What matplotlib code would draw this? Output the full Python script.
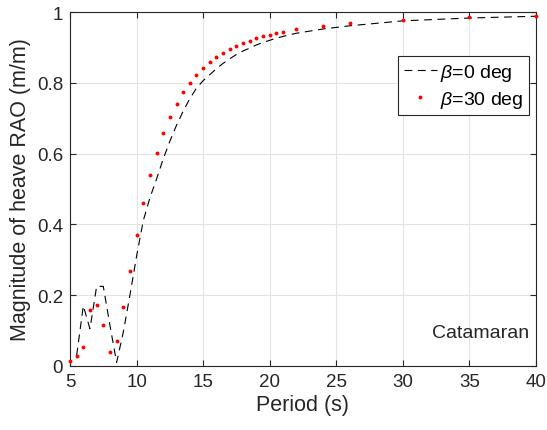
import matplotlib.pyplot as plt

plt.rcParams['font.family'] = ['Liberation Sans', 'DejaVu Sans']
plt.rcParams['mathtext.fontset'] = 'custom'
plt.rcParams['mathtext.it'] = 'Liberation Sans:italic'

# wave periods (s)
period = [5.0, 5.5, 6.0, 6.5, 7.0, 7.5, 8.0, 8.5, 9.0, 9.5, 10.0, 10.5, 11.0,
          11.5, 12.0, 12.5, 13.0, 13.5, 14.0, 14.5, 15.0, 15.5, 16.0, 16.5,
          17.0, 17.5, 18.0, 18.5, 19.0, 19.5, 20.0, 20.5, 21.0, 22.0, 24.0,
          26.0, 30.0, 35.0, 40.0]

# heave RAO, beta = 0 deg (no value at 5 s)
rao_beta0 = [None, 0.03, 0.17, 0.105, 0.225, 0.225, 0.115, 0.01, 0.095, 0.20,
             0.31, 0.41, 0.475, 0.528, 0.585, 0.635, 0.68, 0.72, 0.755, 0.785,
             0.806, 0.823, 0.840, 0.855, 0.868, 0.880, 0.890, 0.898, 0.907,
             0.914, 0.920, 0.926, 0.931, 0.940, 0.952, 0.961, 0.975, 0.983,
             0.988]

# heave RAO, beta = 30 deg
rao_beta30 = [0.015, 0.029, 0.053, 0.159, 0.172, 0.117, 0.040, 0.071, 0.166,
              0.267, 0.370, 0.460, 0.540, 0.603, 0.657, 0.704, 0.741, 0.773,
              0.800, 0.823, 0.843, 0.859, 0.872, 0.884, 0.895, 0.904, 0.912,
              0.919, 0.926, 0.931, 0.936, 0.941, 0.944, 0.951, 0.961, 0.968,
              0.977, 0.985, 0.990]

x0 = [p for p, r in zip(period, rao_beta0) if r is not None]
y0 = [r for r in rao_beta0 if r is not None]

fig = plt.figure(figsize=(5.47, 4.31), dpi=100)
ax = fig.add_axes([70 / 547, 64 / 431, 466 / 547, 354 / 431])

ax.plot(x0, y0, color='black', linestyle='--', dashes=(7, 5), linewidth=0.8,
        label=r'$\beta$=0 deg')
ax.plot(period, rao_beta30, linestyle='none', marker='o', markersize=2.8,
        markeredgewidth=0, color='red', label=r'$\beta$=30 deg', clip_on=False,
        zorder=5)

ax.set_xlim(5, 40)
ax.set_ylim(0, 1)
ax.set_xticks([5, 10, 15, 20, 25, 30, 35, 40])
ax.set_yticks([0, 0.2, 0.4, 0.6, 0.8, 1])
ax.set_yticklabels(['0', '0.2', '0.4', '0.6', '0.8', '1'])
ax.grid(True, color='#e3e3e3', linewidth=0.8)
ax.set_axisbelow(True)

for s in ax.spines.values():
    s.set_color('#262626')
    s.set_linewidth(0.8)
ax.tick_params(direction='in', top=True, right=True, length=4, width=0.8,
               color='#262626', labelsize=13.5, labelcolor='#262626', pad=5)

ax.set_xlabel('Period (s)', fontsize=15.5, color='#262626', labelpad=3)
ax.set_ylabel('Magnitude of heave RAO (m/m)', fontsize=15.5, color='#262626',
              labelpad=4)

leg = ax.legend(loc='upper right', bbox_to_anchor=(0.985, 0.876),
                borderaxespad=0, fontsize=14, fancybox=False, framealpha=1,
                edgecolor='#262626', handlelength=1.7, handletextpad=0.15,
                borderpad=0.3, labelspacing=0.3)
leg.get_frame().set_linewidth(0.8)

ax.text(0.88, 0.096, 'Catamaran', transform=ax.transAxes, ha='center',
        va='center', fontsize=14, color='#262626')

fig.savefig('out.png', dpi=100)
